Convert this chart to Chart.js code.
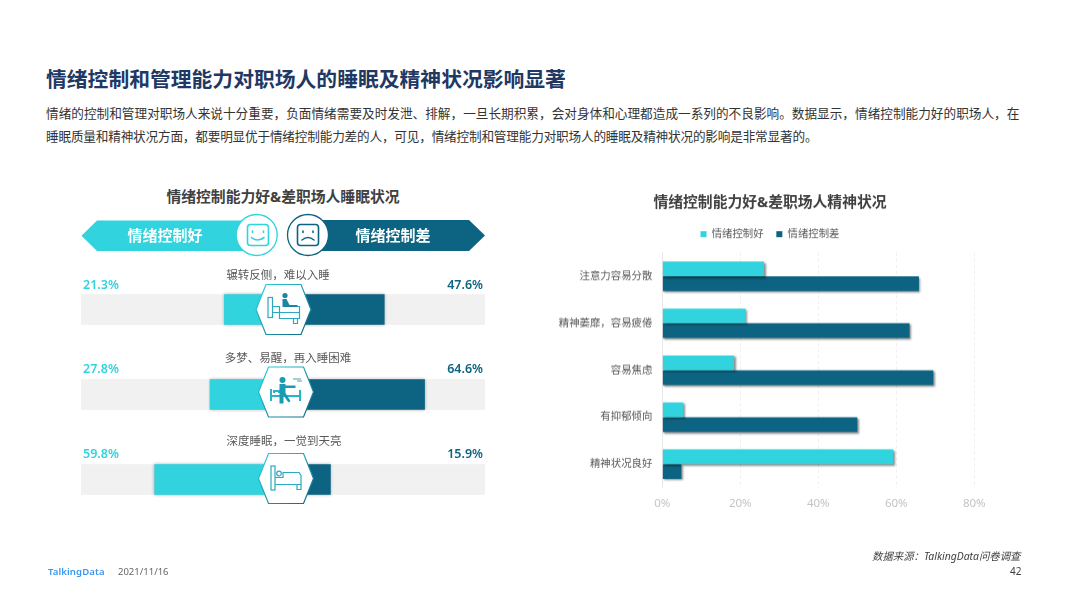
<!DOCTYPE html>
<html lang="zh">
<head>
<meta charset="utf-8">
<title>情绪控制和管理能力对职场人的睡眠及精神状况影响显著</title>
<script src="https://cdn.jsdelivr.net/npm/chart.js@4"></script>
<style>
html, body { margin: 0; padding: 0; background: #fff; }
body { width: 1066px; height: 599px; position: relative; overflow: hidden; font-family: "Noto Sans", "Noto Sans CJK SC", sans-serif; }
.t { position: absolute; white-space: nowrap; line-height: 1; }
.c { transform: translateX(-50%); }
#head { left: 46px; top: 69px; font-size: 20.8px; font-weight: 700; color: #1f3864; }
.para { left: 46px; font-size: 12.65px; color: #333; }
.sub { font-size: 14.8px; font-weight: 700; color: #404040; }
.banner { font-size: 15px; font-weight: 700; color: #fff; top: 228px; }
canvas { position: absolute; }
#sleepWrap { position: absolute; left: 81px; top: 267px; width: 404px; height: 255px; }
#mindWrap { position: absolute; left: 540px; top: 185px; width: 460px; height: 334.5px; }
svg { position: absolute; left: 0; top: 0; }
</style>
</head>
<body>
<div class="t" id="head">情绪控制和管理能力对职场人的睡眠及精神状况影响显著</div>
<div class="t para" style="top:107px">情绪的控制和管理对职场人来说十分重要，负面情绪需要及时发泄、排解，一旦长期积累，会对身体和心理都造成一系列的不良影响。数据显示，情绪控制能力好的职场人，在</div>
<div class="t para" style="top:130px;letter-spacing:-.2px">睡眠质量和精神状况方面，都要明显优于情绪控制能力差的人，可见，情绪控制和管理能力对职场人的睡眠及精神状况的影响是非常显著的。</div>
<div class="t sub c" style="left:283px;top:189px">情绪控制能力好&amp;差职场人睡眠状况</div>

<div id="sleepWrap"><canvas id="sleepChart"></canvas></div>
<div id="mindWrap"><canvas id="mindChart"></canvas></div>

<svg width="1066" height="599" viewBox="0 0 1066 599">
  <defs>
    <linearGradient id="hexLine" x1="0" x2="1" y1="0" y2="1">
      <stop offset="0" stop-color="#31d3de"/><stop offset="1" stop-color="#0c6482"/>
    </linearGradient>
    <g id="hex">
      <polygon points="-27.5,0 -17.5,-25 17.5,-25 27.5,0 17.5,25 -17.5,25" fill="#fff" stroke="url(#hexLine)" stroke-width="1.2"/>
    </g>
  </defs>
  <!-- banner arrows -->
  <polygon points="81.5,235.7 97,220.5 256,220.5 256,251 97,251" fill="#31d3de"/>
  <polygon points="308,220 469,220 485,235.5 469,251 308,251" fill="#0c6482"/>
  <circle cx="256.7" cy="235" r="20.5" fill="#fff" stroke="#31d3de" stroke-width="1.3"/>
  <circle cx="308" cy="235" r="20.5" fill="#fff" stroke="#0c6482" stroke-width="1.3"/>
  <g fill="none" stroke-width="1.6" stroke-linecap="round">
    <g stroke="#31d3de">
      <rect x="247.5" y="224.5" width="21" height="21" rx="3"/>
      <path d="M251.5 237.5q6 5 12.5 0"/>
      <path d="M252.5 231v1.5M263.5 231v1.5"/>
    </g>
    <g stroke="#0c6482">
      <rect x="297.5" y="224.5" width="21" height="21" rx="3"/>
      <path d="M302 240q6-5 12 0"/>
      <path d="M303 231v1.5M313 231v1.5"/>
    </g>
  </g>
  <!-- row 1: sitting up in bed -->
  <g transform="translate(283.5,309.5)">
    <use href="#hex"/>
    <g fill="none" stroke="#2aa9c0" stroke-width="1.2">
      <rect x="-15.5" y="-12" width="4.5" height="20"/>
      <path d="M-11 -3h7v6h20v-6h-4M-11 3h7M-4 3v6h20V3M10 9v5h4V9"/>
    </g>
    <g fill="#1c86a2">
      <circle cx="1.5" cy="-14" r="2.6"/>
      <path d="M-1-10.5h4l3 6h8v2H-1z"/>
    </g>
  </g>
  <!-- row 2: sleepwalking -->
  <g transform="translate(286,392)">
    <use href="#hex"/>
    <g fill="none" stroke="#2ab4c8" stroke-width="2">
      <path d="M-15-3v12M-15 4h29M14-2v11"/>
      <path d="M-12 1v-2h5v2"/>
    </g>
    <g fill="#1c9ab4">
      <circle cx="-3.5" cy="-12" r="3"/>
      <path d="M-6.5-8h6v1.500h10v2.500h-10v5l5 8-2 1.500-5-7v8h-4z"/>
    </g>
    <path d="M7-13h8M11-11h5" stroke="#1c86a2" stroke-width="0.8" fill="none"/>
  </g>
  <!-- row 3: sleeping in bed -->
  <g transform="translate(286,478.500)">
    <use href="#hex"/>
    <g fill="none" stroke="#2aa9c0" stroke-width="1.200">
      <rect x="-15" y="-12.500" width="4" height="24"/>
      <path d="M-11 6h26V-3l-2-3H-3v5h-8"/>
      <path d="M11 6v5h4V6"/>
      <circle cx="-7" cy="-5" r="2.300"/>
    </g>
  </g>
</svg>

<div class="t" style="left:48px;top:567px;font-size:9.6px;font-weight:600;color:#3a96ee;letter-spacing:.1px">TalkingData</div>
<div class="t" style="left:118px;top:567px;font-size:9.5px;color:#666">2021/11/16</div>
<div class="t" style="left:872px;top:551px;font-size:10.4px;font-style:italic;color:#404040">数据来源：TalkingData问卷调查</div>
<div class="t" style="left:1010px;top:566px;font-size:10px;color:#404040">42</div>

<script>
// left panel, sleep
const sleepCategories = ['辗转反侧，难以入睡', '多梦、易醒，再入睡困难', '深度睡眠，一觉到天亮'];
const sleepGood = [21.3, 27.8, 59.8];
const sleepPoor = [47.6, 64.6, 15.9];
const sleepTrackBefore = [61.4, 55.2, 31.5];
const sleepTrackTotal = 173.4;

// right panel, mental state
const mindCategories = ['注意力容易分散', '精神萎靡，容易疲倦', '容易焦虑', '有抑郁倾向', '精神状况良好'];
const mindGood = [26.1, 21.4, 18.4, 5.4, 59.2];
const mindPoor = [65.8, 63.4, 69.5, 50.0, 4.9];
const mindTicks = [0, 20, 40, 60, 80];

const goodName = '情绪控制好';
const poorName = '情绪控制差';
const CYAN = '#31d3de';
const TEAL = '#0c6482';
const TRACK = '#f1f1f1';
const FONT = '"Noto Sans", "Noto Sans CJK SC", sans-serif';

// bars in the source have a soft drop shadow
const barShadow = {
    id: 'barShadow',
    beforeDatasetDraw(chart, args) {
        const s = chart.data.datasets[args.index].shadow;
        chart.ctx.save();
        if (s) {
            chart.ctx.shadowColor = s.color;
            chart.ctx.shadowBlur = s.blur;
            chart.ctx.shadowOffsetX = s.x;
            chart.ctx.shadowOffsetY = s.y;
        }
    },
    afterDatasetDraw(chart) {
        chart.ctx.restore();
    }
};
Chart.register(barShadow);
Chart.defaults.font.family = FONT;
Chart.defaults.animation = false;

const softShadow = { color: 'rgba(0,0,0,.3)', blur: 3, x: 0, y: 0 };
const bar = { categoryPercentage: 0.36, barPercentage: 1 };

new Chart(document.getElementById('sleepChart'), {
    type: 'bar',
    data: {
        labels: sleepCategories,
        datasets: [
            { data: sleepTrackBefore, backgroundColor: 'transparent', ...bar },
            { label: goodName, data: sleepGood, backgroundColor: CYAN, shadow: softShadow, ...bar },
            { label: poorName, data: sleepPoor, backgroundColor: TEAL, shadow: softShadow, ...bar }
        ]
    },
    options: {
        indexAxis: 'y',
        responsive: true,
        maintainAspectRatio: false,
        plugins: {
            legend: { display: false },
            tooltip: { enabled: false }
        },
        scales: {
            x: { display: false, stacked: true, min: 0, max: sleepTrackTotal },
            y: { display: false, stacked: true }
        }
    },
    plugins: [{
        // grey band behind the whole row
        id: 'trackBand',
        beforeDatasetsDraw(chart) {
            const { ctx, chartArea, scales } = chart;
            ctx.save();
            ctx.fillStyle = TRACK;
            sleepCategories.forEach((c, i) => {
                const y = scales.y.getPixelForValue(i);
                ctx.fillRect(chartArea.left, y - 15.3, chartArea.width, 30.6);
            });
            ctx.restore();
        }
    }]
});

new Chart(document.getElementById('mindChart'), {
    type: 'bar',
    data: {
        labels: mindCategories,
        datasets: [
            { label: goodName, data: mindGood, backgroundColor: CYAN },
            { label: poorName, data: mindPoor, backgroundColor: TEAL }
        ].map(d => ({
            ...d,
            categoryPercentage: 0.628,
            barPercentage: 1,
            shadow: { color: 'rgba(0,0,0,.45)', blur: 2, x: 1.5, y: 1.5 }
        }))
    },
    options: {
        indexAxis: 'y',
        responsive: true,
        maintainAspectRatio: false,
        layout: { padding: { left: 25.7, right: 25.7, top: 9 } },
        plugins: {
            title: {
                display: true,
                text: '情绪控制能力好&差职场人精神状况',
                color: '#404040',
                font: { size: 14.8, weight: 700 },
                padding: { top: 0, bottom: 4.3 }
            },
            legend: {
                position: 'top',
                labels: { boxWidth: 6, boxHeight: 6, padding: 12.7, color: '#595959', font: { size: 10.4 } }
            },
            tooltip: { enabled: false }
        },
        scales: {
            x: {
                min: 0,
                max: 80,
                afterBuildTicks(axis) { axis.ticks = mindTicks.map(v => ({ value: v })); },
                grid: { color: '#eeeeee', tickLength: 0 },
                border: { display: false, dash: [3, 3] },
                ticks: { color: '#c4c4c4', font: { size: 11.5 }, padding: 9.5, maxRotation: 0, callback: v => v + '%' }
            },
            y: {
                afterFit(axis) { axis.width = 96.6; },
                grid: { display: false },
                border: { color: '#e8e8e8' },
                ticks: { color: '#595959', font: { size: 10.4 }, padding: 2 }
            }
        }
    },
    plugins: [{
        // more room under the legend than its padding gives
        id: 'legendGap',
        beforeLayout(chart) {
            const legend = chart.legend;
            if (legend.gapAdded) return;
            const fit = legend.fit;
            legend.fit = function () {
                fit.call(this);
                this.height += 3.5;
            };
            legend.gapAdded = true;
        }
    }, {
        // the longest label runs into the left padding, stop it being clipped there
        id: 'unclipLabels',
        afterLayout(chart) { chart.scales.y.left = 0; }
    }]
});

// row captions and percent labels for the left panel
const captionX = [278, 288, 284];
const captionY = [269, 352, 435];
const pctY = [279, 363, 448];
sleepCategories.forEach((c, i) => {
    addText(c, `left:${captionX[i]}px;top:${captionY[i]}px;font-size:11.5px;color:#595959`, 't c');
    addText(sleepGood[i].toFixed(1) + '%', `left:83px;top:${pctY[i]}px;font-size:12.5px;font-weight:600;color:${CYAN}`, 't');
    addText(sleepPoor[i].toFixed(1) + '%', `right:${1066 - 483}px;top:${pctY[i]}px;font-size:12.5px;font-weight:600;color:${TEAL}`, 't');
});
addText(goodName, 'left:165px;', 't c banner');
addText(poorName, 'left:393px;', 't c banner');

function addText(text, css, cls) {
    const el = document.createElement('div');
    el.className = cls;
    el.style.cssText = css;
    el.textContent = text;
    document.body.appendChild(el);
}
</script>
</body>
</html>
